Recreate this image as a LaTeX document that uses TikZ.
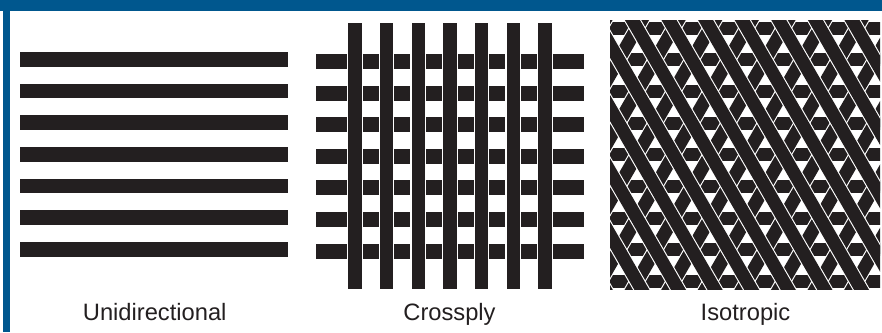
\documentclass[tikz,border=0pt]{standalone}
\usepackage{fontspec}
\setmainfont{Liberation Sans}
\definecolor{ink}{HTML}{231F20}
\definecolor{bandblue}{HTML}{00578E}
\begin{document}
\begin{tikzpicture}[x=1pt,y=-1pt,
  barfill/.style={fill=ink,draw=none},
  band/.style={fill=bandblue,draw=none},
  captext/.style={font=\fontsize{23.7}{28}\selectfont,text=ink,anchor=base,inner sep=0pt},
  weaveink/.style={line width=13pt,draw=ink,line cap=butt},
  weavegap/.style={line width=15.2pt,draw=white,line cap=butt}]
\useasboundingbox (0,0) rectangle (882,332);
\fill[white] (0,0) rectangle (882,332);
\fill[band] (0,0) rectangle (882,11);
\fill[band] (3,0) rectangle (10,332);
% Unidirectional
\foreach \k in {0,...,6} {
  \fill[barfill] (20,{52+31.67*\k}) rectangle (288,{66.5+31.67*\k});
}
% Crossply
\foreach \k in {0,...,6} {
  \fill[barfill] (316,{54+31.6*\k}) rectangle (584,{69+31.6*\k});
}
\foreach \k in {0,...,6} {
  \fill[white] ({347+31.67*\k},23) rectangle ({362.8+31.67*\k},289);
  \fill[barfill] ({348.3+31.67*\k},23) rectangle ({361.5+31.67*\k},289);
}
% Isotropic
\begin{scope}
\clip (610,20) rectangle (880,289.5);
\foreach \k in {0,...,8} {
  \fill[barfill] (600,{21.5+31.7*\k}) rectangle (890,{34.5+31.7*\k});
}
\foreach \k in {-4,...,20} {
  \draw[weavegap] ({637+36.6*\k+166.4},{28-288}) -- ({637+36.6*\k-166.4},{28+288});
  \draw[weaveink] ({637+36.6*\k+166.4},{28-288}) -- ({637+36.6*\k-166.4},{28+288});
}
\foreach \k in {-12,...,12} {
  \draw[weavegap] ({637+36.6*\k-166.4},{28-288}) -- ({637+36.6*\k+166.4},{28+288});
  \draw[weaveink] ({637+36.6*\k-166.4},{28-288}) -- ({637+36.6*\k+166.4},{28+288});
}
\end{scope}
\node[captext] (uni) at (154.7,320) {Unidirectional};
\node[captext] (cross) at (449.5,320) {Crossply};
\node[captext] (iso) at (745.5,320) {Isotropic};
\end{tikzpicture}
\end{document}
